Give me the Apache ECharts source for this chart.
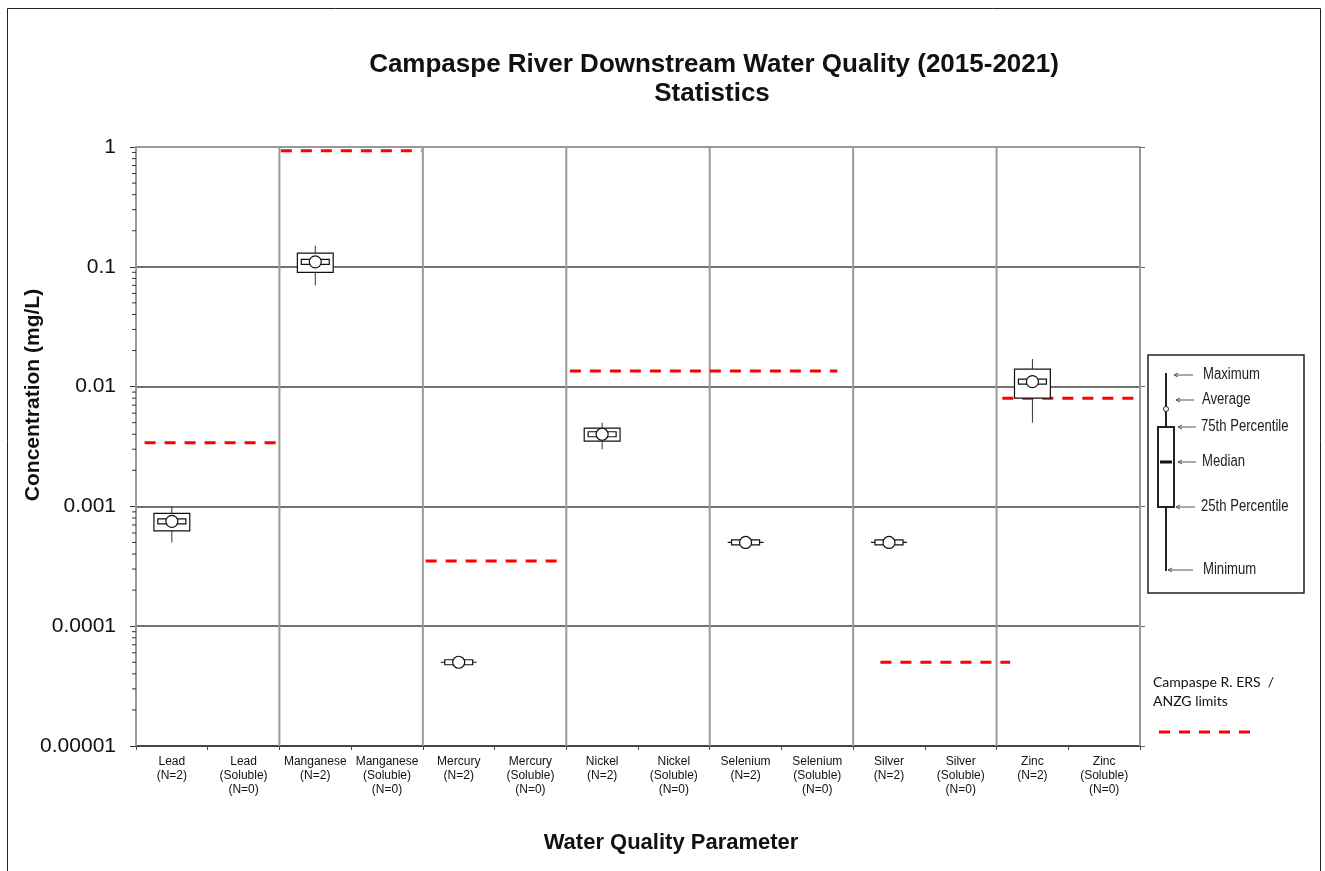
<!DOCTYPE html>
<html>
<head>
<meta charset="utf-8">
<script src="https://cdn.jsdelivr.net/npm/echarts@6/dist/echarts.min.js"></script>
<style>
html, body { margin: 0; padding: 0; background: #fff; }
#chart { width: 1325px; height: 871px; }
</style>
</head>
<body>
<div id="chart"></div>
<script>
// categories along the x axis
var categories = [
    'Lead\n(N=2)', 'Lead\n(Soluble)\n(N=0)',
    'Manganese\n(N=2)', 'Manganese\n(Soluble)\n(N=0)',
    'Mercury\n(N=2)', 'Mercury\n(Soluble)\n(N=0)',
    'Nickel\n(N=2)', 'Nickel\n(Soluble)\n(N=0)',
    'Selenium\n(N=2)', 'Selenium\n(Soluble)\n(N=0)',
    'Silver\n(N=2)', 'Silver\n(Soluble)\n(N=0)',
    'Zinc\n(N=2)', 'Zinc\n(Soluble)\n(N=0)'
];

// box statistics (mg/L), one per measured category
var boxCats = [0, 2, 4, 6, 8, 10, 12];
var mins    = [0.0005,   0.07, 0.00005, 0.003,  0.0005, 0.0005, 0.005];
var q1s     = [0.000625, 0.09, 0.00005, 0.0035, 0.0005, 0.0005, 0.008];
var medians = [0.00075,  0.11, 0.00005, 0.004,  0.0005, 0.0005, 0.011];
var q3s     = [0.000875, 0.13, 0.00005, 0.0045, 0.0005, 0.0005, 0.014];
var maxs    = [0.001,    0.15, 0.00005, 0.005,  0.0005, 0.0005, 0.017];
var means   = [0.00075,  0.11, 0.00005, 0.004,  0.0005, 0.0005, 0.011];

// ERS / ANZG limit lines: value and span in category units
var limitValues = [0.0034, 0.93, 0.00035, 0.0135, 0.00005, 0.008];
var limitFrom   = [0.12, 2.02, 4.04, 6.05, 10.38, 12.08];
var limitTo     = [1.98, 3.98, 5.9, 9.78, 12.19, 13.92];

// y axis ticks
var yTickValues = [0.00001, 0.0001, 0.001, 0.01, 0.1, 1];
var yTickLabels = ['0.00001', '0.0001', '0.001', '0.01', '0.1', '1'];

// vertical grid lines sit on every second category boundary
var gridBoundaries = [0, 2, 4, 6, 8, 10, 12, 14];

var minorTicks = [];
for (var d = 0; d < yTickValues.length - 1; d++) {
    for (var m = 2; m <= 9; m++) {
        minorTicks.push([m * yTickValues[d]]);
    }
}

var boxData = boxCats.map(function(c, i) {
    return [c, mins[i], q1s[i], medians[i], q3s[i], maxs[i], means[i]];
});
var limitData = limitValues.map(function(v, i) {
    return [limitFrom[i], limitTo[i], v];
});

var AXIS_FONT = "'Liberation Sans', Arial, sans-serif";

function renderBox(params, api) {
    var c = api.value(0);
    var pMax = api.coord([c, api.value(5)]);
    var pQ3 = api.coord([c, api.value(4)]);
    var pMed = api.coord([c, api.value(3)]);
    var pQ1 = api.coord([c, api.value(2)]);
    var pMin = api.coord([c, api.value(1)]);
    var pAvg = api.coord([c, api.value(6)]);
    var band = api.coord([c + 1, api.value(3)])[0] - pMed[0];
    var half = band * 0.25;
    var x = pMed[0];
    var stroke = { fill: '#fff', stroke: '#111', lineWidth: 1.2 };
    return {
        type: 'group',
        children: [
            { type: 'line', shape: { x1: x, y1: pMax[1], x2: x, y2: pMin[1] }, style: { stroke: '#333', lineWidth: 1 } },
            { type: 'rect', shape: { x: x - half, y: pQ3[1], width: half * 2, height: pQ1[1] - pQ3[1] }, style: stroke },
            { type: 'rect', shape: { x: x - 14, y: pMed[1] - 2.5, width: 28, height: 5 }, style: stroke },
            { type: 'circle', shape: { cx: x, cy: pAvg[1], r: 6 }, style: stroke }
        ]
    };
}

function renderLimit(params, api) {
    var v = api.value(2);
    var p0 = api.coord([0, v]);
    var band = api.coord([1, v])[0] - p0[0];
    var left = p0[0] - band / 2;
    return {
        type: 'line',
        shape: { x1: left + api.value(0) * band, y1: p0[1], x2: left + api.value(1) * band, y2: p0[1] },
        style: { stroke: '#ff0000', lineWidth: 3, lineDash: [11, 9] }
    };
}

function renderMinor(params, api) {
    var p = api.coord([0, api.value(0)]);
    var x0 = params.coordSys.x;
    return {
        type: 'line',
        shape: { x1: x0 - 4, y1: p[1], x2: x0, y2: p[1] },
        style: { stroke: '#333', lineWidth: 1 }
    };
}

function renderVGrid(params, api) {
    var cs = params.coordSys;
    var p0 = api.coord([0, 1]);
    var band = api.coord([1, 1])[0] - p0[0];
    var x = p0[0] - band / 2 + api.value(0) * band;
    return {
        type: 'line',
        shape: { x1: x, y1: cs.y, x2: x, y2: cs.y + cs.height },
        style: { stroke: '#999', lineWidth: 2 }
    };
}

// legend glyph on the right
var legendRows = [
    { y: 375, x1: 1174, x2: 1193, tx: 1203, text: 'Maximum' },
    { y: 400, x1: 1176, x2: 1194, tx: 1202, text: 'Average' },
    { y: 427, x1: 1178, x2: 1196, tx: 1201, text: '75th Percentile' },
    { y: 462, x1: 1178, x2: 1196, tx: 1202, text: 'Median' },
    { y: 507, x1: 1176, x2: 1195, tx: 1201, text: '25th Percentile' },
    { y: 570, x1: 1168, x2: 1193, tx: 1203, text: 'Minimum' }
];
var legendGraphics = [
    { type: 'rect', shape: { x: 1148, y: 355, width: 156, height: 238 }, style: { fill: '#fff', stroke: '#222', lineWidth: 1.5 } },
    { type: 'line', shape: { x1: 1166, y1: 373, x2: 1166, y2: 571 }, style: { stroke: '#222', lineWidth: 2 } },
    { type: 'rect', shape: { x: 1158, y: 427, width: 16, height: 80 }, style: { fill: '#fff', stroke: '#222', lineWidth: 2 } },
    { type: 'line', shape: { x1: 1160, y1: 462, x2: 1172, y2: 462 }, style: { stroke: '#111', lineWidth: 3 } },
    { type: 'circle', shape: { cx: 1166, cy: 409, r: 2.5 }, style: { fill: '#fff', stroke: '#222', lineWidth: 1 } }
];
legendRows.forEach(function(r) {
    legendGraphics.push({ type: 'line', shape: { x1: r.x1, y1: r.y, x2: r.x2, y2: r.y }, style: { stroke: '#555', lineWidth: 1 } });
    legendGraphics.push({ type: 'polyline', shape: { points: [[r.x1 + 4, r.y - 2], [r.x1, r.y], [r.x1 + 4, r.y + 2]] }, style: { stroke: '#555', lineWidth: 1, fill: null } });
    legendGraphics.push({ type: 'text', x: r.tx, y: r.y, scaleX: 0.82, style: { text: r.text, font: '16px ' + AXIS_FONT, fill: '#222', verticalAlign: 'middle' } });
});

var chart = echarts.init(document.getElementById('chart'));

chart.setOption({
    backgroundColor: '#fff',
    animation: false,
    grid: { left: 136, right: 185, top: 147, bottom: 125, containLabel: false },
    xAxis: [{
        type: 'category',
        data: categories,
        boundaryGap: true,
        axisLine: { lineStyle: { color: '#444', width: 2 } },
        axisTick: { show: true, interval: 0, length: 4, lineStyle: { color: '#444' } },
        axisLabel: { interval: 0, margin: 9, fontSize: 12, lineHeight: 14, color: '#111', fontFamily: AXIS_FONT },
        splitLine: { show: false }
    }, {
        type: 'category',
        data: categories,
        position: 'top',
        axisLine: { lineStyle: { color: '#999', width: 2 } },
        axisTick: { show: false },
        axisLabel: { show: false },
        splitLine: { show: false }
    }],
    yAxis: [{
        type: 'log',
        logBase: 10,
        min: 0.00001,
        max: 1,
        axisLine: { show: true, lineStyle: { color: '#333', width: 1.5 } },
        axisTick: { show: true, length: 6, lineStyle: { color: '#333' } },
        axisLabel: {
            margin: 20, fontSize: 21, color: '#111', fontFamily: AXIS_FONT,
            formatter: function(v) {
                var i = Math.round(Math.log10(v) + 5);
                return yTickLabels[i] || '';
            }
        },
        splitLine: { show: true, lineStyle: { color: ['#444', '#444', '#444', '#444', '#444', '#999'], width: 1.5 } }
    }, {
        type: 'log',
        logBase: 10,
        min: 0.00001,
        max: 1,
        position: 'right',
        axisLine: { show: false },
        axisTick: { show: true, length: 5, lineStyle: { color: '#666' } },
        axisLabel: { show: false },
        splitLine: { show: false }
    }],
    series: [{
        type: 'custom',
        name: 'vgrid',
        renderItem: renderVGrid,
        data: gridBoundaries.map(function(b) { return [b]; }),
        encode: { x: 0 },
        clip: false,
        silent: true,
        z: 1
    }, {
        type: 'custom',
        name: 'minor',
        renderItem: renderMinor,
        data: minorTicks,
        encode: { y: 0 },
        clip: false,
        silent: true
    }, {
        type: 'custom',
        name: 'limits',
        renderItem: renderLimit,
        data: limitData,
        encode: { y: 2 },
        clip: false,
        z: 3
    }, {
        type: 'custom',
        name: 'boxes',
        renderItem: renderBox,
        data: boxData,
        encode: { x: 0, y: [1, 5] },
        z: 4
    }],
    graphic: [
        { type: 'rect', shape: { x: 7.5, y: 8.5, width: 1313, height: 900 }, style: { fill: null, stroke: '#222', lineWidth: 1 }, silent: true },
        { type: 'text', x: 714, y: 65, style: { text: 'Campaspe River Downstream Water Quality (2015-2021)', font: 'bold 26px ' + AXIS_FONT, fill: '#111', align: 'center', verticalAlign: 'middle' } },
        { type: 'text', x: 712, y: 94, style: { text: 'Statistics', font: 'bold 26px ' + AXIS_FONT, fill: '#111', align: 'center', verticalAlign: 'middle' } },
        { type: 'text', x: 33, y: 395, rotation: Math.PI / 2, style: { text: 'Concentration (mg/L)', font: 'bold 21px ' + AXIS_FONT, fill: '#111', align: 'center', verticalAlign: 'middle' } },
        { type: 'text', x: 671, y: 843, style: { text: 'Water Quality Parameter', font: 'bold 22px ' + AXIS_FONT, fill: '#111', align: 'center', verticalAlign: 'middle' } },
        { type: 'text', x: 1153, y: 682, style: { text: 'Campaspe R. ERS  /', font: '14px Lato, sans-serif', fill: '#111', verticalAlign: 'middle' } },
        { type: 'text', x: 1153, y: 701, style: { text: 'ANZG limits', font: '14px Lato, sans-serif', fill: '#111', verticalAlign: 'middle' } },
        { type: 'line', shape: { x1: 1159, y1: 732, x2: 1250, y2: 732 }, style: { stroke: '#ff0000', lineWidth: 3, lineDash: [11, 9] } }
    ].concat(legendGraphics)
});
</script>
</body>
</html>
